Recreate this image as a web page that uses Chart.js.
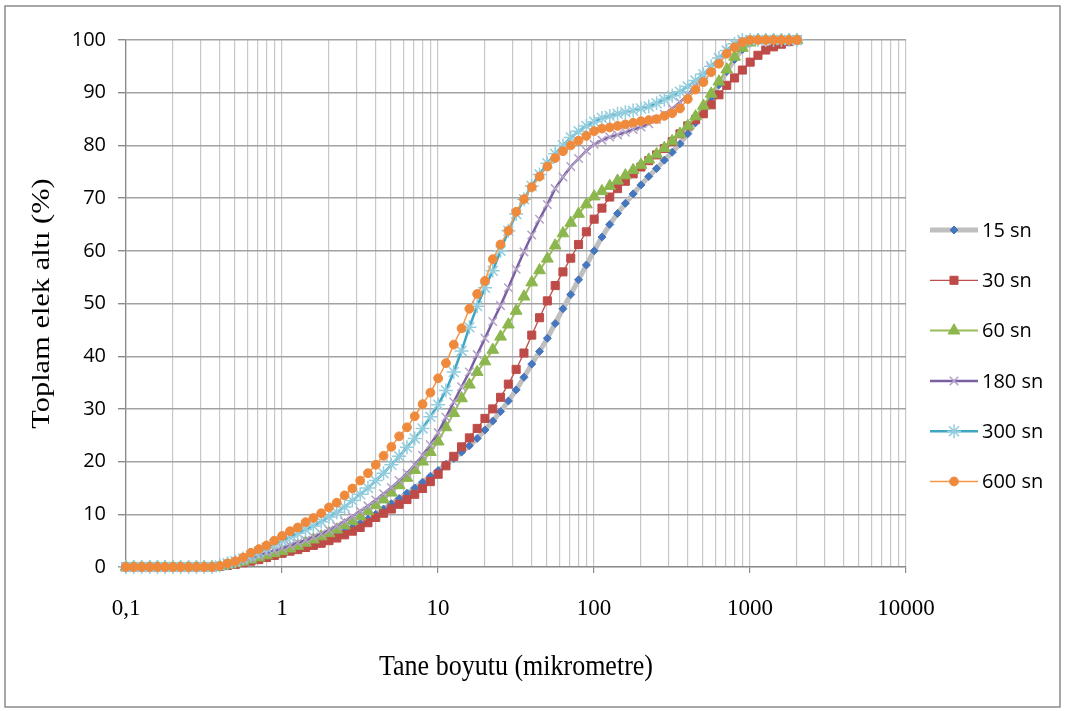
<!DOCTYPE html>
<html><head><meta charset="utf-8">
<script src="https://cdn.jsdelivr.net/npm/chart.js@4.4.1/dist/chart.umd.min.js"></script>
<style>html,body{margin:0;padding:0;background:#fff;}canvas{display:block}</style>
</head><body>
<canvas id="c" width="1065" height="711"></canvas>
<script>
// Particle size classes (micrometre)
const sizes = [
  0.1, 0.112, 0.126, 0.142, 0.159, 0.178, 0.2, 0.224, 0.252, 0.283,
  0.317, 0.356, 0.399, 0.448, 0.502, 0.564, 0.632, 0.71, 0.796, 0.893,
  1.002, 1.125, 1.262, 1.416, 1.589, 1.783, 2.0, 2.244, 2.518, 2.825,
  3.17, 3.557, 3.991, 4.477, 5.024, 5.637, 6.325, 7.096, 7.962, 8.934,
  10.024, 11.247, 12.619, 14.159, 15.887, 17.825, 20.0, 22.44, 25.179, 28.251,
  31.698, 35.566, 39.905, 44.774, 50.238, 56.368, 63.246, 70.963, 79.621, 89.337,
  100.237, 112.468, 126.191, 141.589, 158.866, 178.25, 200.0, 224.404, 251.785, 282.508,
  316.979, 355.656, 399.052, 447.744, 502.377, 563.677, 632.456, 709.627, 796.214, 893.367,
  1002.374, 1124.683, 1261.915, 1415.892, 1588.656, 1782.502, 2000.0
];
const s15 = [
  0,0,0,0,0,0,0,0,0,0,
  0,0,0.1,0.4,0.7,1.0,1.4,1.8,2.3,2.7,
  3.1,3.5,3.9,4.3,4.7,5.1,5.6,6.2,6.8,7.5,
  8.3,9.1,10.0,11.0,12.0,13.0,14.0,15.0,16.1,17.2,
  18.3,19.5,20.6,21.8,23.0,24.4,26.0,27.7,29.5,31.5,
  33.6,36.0,38.5,40.9,43.4,46.2,49.0,51.7,54.5,57.3,
  60.0,62.6,65.0,67.1,69.0,70.8,72.5,74.1,75.6,77.2,
  78.7,80.3,82.2,84.3,86.6,89.0,91.5,94.0,96.3,98.2,
  99.4,100,100,100,100,100,100
];
const s30 = [
  0,0,0,0,0,0,0,0,0,0,
  0,0,0.1,0.3,0.5,0.8,1.1,1.4,1.8,2.2,
  2.6,3.0,3.3,3.7,4.1,4.5,5.0,5.5,6.1,6.8,
  7.5,8.4,9.4,10.2,11.0,11.9,12.8,13.8,14.9,16.2,
  17.6,19.2,21.0,22.8,24.5,26.3,28.2,30.0,32.2,34.7,
  37.5,40.6,44.0,47.3,50.5,53.4,56.0,58.6,61.2,63.6,
  66.0,68.1,70.2,71.8,73.2,74.6,75.9,77.1,78.2,79.4,
  80.7,82.2,83.7,84.9,86.0,87.7,89.6,91.4,92.8,94.3,
  95.8,97.1,98.1,98.7,99.2,99.7,100
];
const s60 = [
  0,0,0,0,0,0,0,0,0,0,
  0,0,0.1,0.4,0.7,1.0,1.4,1.8,2.2,2.6,
  3.0,3.5,4.0,4.6,5.2,5.8,6.4,7.1,7.9,8.7,
  9.6,10.6,11.7,12.8,14.1,15.5,16.9,18.4,20.0,21.8,
  23.8,26.5,29.2,32.0,34.6,37.0,39.0,41.2,43.7,46.0,
  48.6,51.3,54.0,56.3,58.5,61.0,63.3,65.3,67.0,68.8,
  70.3,71.3,72.3,73.3,74.3,75.3,76.3,77.3,78.3,79.5,
  80.8,82.2,83.7,85.5,87.5,89.8,92.1,94.4,96.8,98.5,
  99.5,100,100,100,100,100,100
];
const s180 = [
  0,0,0,0,0,0,0,0,0,0,
  0,0,0.2,0.6,0.9,1.3,1.7,2.2,2.7,3.1,
  3.6,4.1,4.6,5.1,5.7,6.3,7.0,7.8,8.7,9.6,
  10.6,11.6,12.7,13.9,15.1,16.4,17.8,19.4,21.2,23.2,
  25.5,28.4,31.3,34.2,37.0,40.3,43.4,46.6,49.6,53.0,
  56.5,59.8,63.0,66.0,68.8,71.8,74.0,76.0,77.5,79.0,
  80.2,81.0,81.6,82.0,82.5,83.0,83.5,84.1,84.9,85.9,
  87.0,88.2,89.6,91.3,93.0,94.8,96.5,98.0,99.2,99.8,
  100,100,100,100,100,100,100
];
const s300 = [
  0,0,0,0,0,0,0,0,0,0,
  0,0,0.3,0.7,1.1,1.6,2.2,2.9,3.6,4.3,
  5.0,5.7,6.4,7.1,7.8,8.6,9.5,10.4,11.4,12.6,
  13.8,15.0,16.4,17.8,19.4,21.0,22.7,24.4,26.3,28.5,
  30.8,33.5,37.0,41.0,45.5,49.5,53.0,56.2,60.0,63.8,
  67.0,69.8,72.3,74.5,76.6,78.4,80.0,81.5,82.7,83.7,
  84.5,85.2,85.6,86.0,86.3,86.6,87.0,87.4,88.0,88.7,
  89.4,90.2,91.2,92.3,93.5,95.0,96.6,98.0,99.3,100,
  100,100,100,100,100,100,100
];
const s600 = [
  0,0,0,0,0,0,0,0,0,0,
  0,0,0.2,0.7,1.1,1.8,2.7,3.4,4.1,5.0,
  5.9,6.8,7.5,8.5,9.3,10.2,11.3,12.2,13.6,14.9,
  16.4,17.8,19.4,21.1,22.8,24.8,26.5,28.6,30.9,33.1,
  35.8,38.7,42.2,45.3,49.0,51.8,54.3,58.4,61.2,63.8,
  67.4,69.8,72.1,74.1,76.0,77.6,78.9,80.0,80.9,81.8,
  82.7,83.2,83.4,83.7,84.0,84.3,84.6,84.8,85.0,85.6,
  86.1,87.0,88.8,90.6,92.0,93.9,95.5,97.4,98.6,99.6,
  100,100,100,100,100,100,100
];
const seriesNames = ['15 sn', '30 sn', '60 sn', '180 sn', '300 sn', '600 sn'];
const seriesValues = [s15, s30, s60, s180, s300, s600];
const xDecades = [0.1, 1, 10, 100, 1000, 10000];
const xTickLabels = ['0,1', '1', '10', '100', '1000', '10000'];
const yTickValues = [0, 10, 20, 30, 40, 50, 60, 70, 80, 90, 100];
const xTitle = 'Tane boyutu (mikrometre)';
const yTitle = 'Toplam elek altı (%)';

const styles = [
  {line:'#bfbfbf', lw:5,   ps:'rectRot',  r:4.0, fill:'#4677be', stroke:'#4677be', pbw:1},
  {line:'#c0504d', lw:1.3, ps:'rect',     r:5.7, fill:'#be4b48', stroke:'#be4b48', pbw:1},
  {line:'#9bbb59', lw:2,   ps:'triangle', r:6.8, fill:'#8cb64e', stroke:'#8cb64e', pbw:1},
  {line:'#7b5fa3', lw:2.5, ps:'crossRot', r:6.0, fill:'#b3a2c7', stroke:'#b3a2c7', pbw:1.5},
  {line:'#3ea5c2', lw:2.5, ps:'star',     r:7.0, fill:'#93cddd', stroke:'#93cddd', pbw:1.5},
  {line:'#f79646', lw:1.5, ps:'circle',   r:4.4, fill:'#ef8a3d', stroke:'#ef8a3d', pbw:1}
];

// grid positions: 1..9 in each decade
const gridVals = [];
for (let d = 0; d < xDecades.length - 1; d++) {
  for (let k = 1; k <= 9; k++) gridVals.push(+(xDecades[d] * k).toPrecision(6));
}
gridVals.push(xDecades[xDecades.length - 1]);
function decadeLabel(v) {
  for (let i = 0; i < xDecades.length; i++) {
    if (Math.abs(v - xDecades[i]) / xDecades[i] < 1e-6) return xTickLabels[i];
  }
  return null;
}

const datasets = seriesNames.map((name, i) => {
  const st = styles[i];
  return {
    label: name,
    data: sizes.map((x, j) => ({x: x, y: seriesValues[i][j]})),
    borderColor: st.line,
    borderWidth: st.lw,
    backgroundColor: st.fill,
    pointStyle: st.ps,
    pointRadius: st.r,
    pointHoverRadius: st.r,
    pointBackgroundColor: st.fill,
    pointBorderColor: st.stroke,
    pointBorderWidth: st.pbw,
    tension: 0,
    fill: false,
    clip: false,
    order: seriesNames.length - 1 - i
  };
});

function drawMarker(ctx, st, x, y) {
  ctx.fillStyle = st.fill;
  ctx.strokeStyle = st.stroke;
  ctx.lineWidth = st.pbw;
  if (window.Chart && Chart.helpers && Chart.helpers.drawPoint) {
    Chart.helpers.drawPoint(ctx, {pointStyle: st.ps, radius: st.r, rotation: 0, borderWidth: st.pbw}, x, y);
  } else {
    ctx.beginPath(); ctx.arc(x, y, st.r, 0, Math.PI * 2); ctx.fill(); ctx.stroke();
  }
}

const bgPlugin = {
  id: 'bgFrame',
  beforeDraw(chart) {
    const ctx = chart.ctx;
    ctx.save();
    ctx.fillStyle = '#ffffff';
    ctx.fillRect(0, 0, chart.width, chart.height);
    ctx.strokeStyle = '#8a8a8a';
    ctx.lineWidth = 1.5;
    ctx.strokeRect(5, 6, 1055, 701);
    ctx.restore();
  }
};

// axis titles (slightly stretched, as in the source picture)
const titlePlugin = {
  id: 'axisTitles',
  afterDraw(chart) {
    const ctx = chart.ctx;
    const a = chart.chartArea;
    ctx.save();
    ctx.fillStyle = '#000';
    ctx.font = '26px "Liberation Serif"';
    ctx.textAlign = 'center';
    ctx.textBaseline = 'middle';
    // x title
    ctx.save();
    ctx.translate((a.left + a.right) / 2, 667);
    ctx.scale(1.0, 1.12);
    ctx.fillText(xTitle, 0, 0);
    ctx.restore();
    // y title
    ctx.save();
    ctx.translate(42, (a.top + a.bottom) / 2);
    ctx.rotate(-Math.PI / 2);
    ctx.scale(1.17, 1.0);
    ctx.fillText(yTitle, 0, 0);
    ctx.restore();
    ctx.restore();
  }
};

const legendPlugin = {
  id: 'sideLegend',
  afterDraw(chart) {
    const ctx = chart.ctx;
    ctx.save();
    seriesNames.forEach((name, i) => {
      const st = styles[i];
      const y = 230 + i * 50.3;
      ctx.strokeStyle = st.line;
      ctx.lineWidth = st.lw;
      ctx.beginPath(); ctx.moveTo(930, y); ctx.lineTo(978, y); ctx.stroke();
      drawMarker(ctx, st, 954, y);
      ctx.fillStyle = '#000';
      ctx.font = '20px "Open Sans"';
      ctx.textAlign = 'left';
      ctx.textBaseline = 'middle';
      ctx.fillText(name, 982, y + 1);
    });
    ctx.restore();
  }
};

new Chart(document.getElementById('c'), {
  type: 'line',
  data: { datasets: datasets },
  plugins: [bgPlugin, titlePlugin, legendPlugin],
  options: {
    responsive: false,
    animation: false,
    devicePixelRatio: 1,
    events: [],
    layout: { padding: { left: 0, right: 159, top: 40, bottom: 0 } },
    plugins: { legend: { display: false }, tooltip: { enabled: false } },
    scales: {
      x: {
        type: 'logarithmic',
        min: xDecades[0],
        max: xDecades[xDecades.length - 1],
        afterBuildTicks(scale) { scale.ticks = gridVals.map(v => ({value: v})); },
        afterFit(scale) { scale.height = 144; },
        grid: {
          color: '#c8c8c8',
          lineWidth: 1.2,
          drawTicks: true,
          tickLength: 6,
          tickColor: (c) => (c.tick && decadeLabel(c.tick.value) !== null) ? '#8a8a8a' : 'rgba(0,0,0,0)'
        },
        border: { color: '#8a8a8a', width: 1.3 },
        ticks: {
          autoSkip: false, maxRotation: 0, minRotation: 0, padding: 22,
          color: '#000',
          font: { family: 'Liberation Serif', size: 23 },
          callback: (v) => { const l = decadeLabel(v); return l === null ? '' : l; }
        },
        title: { display: false }
      },
      y: {
        type: 'linear',
        min: yTickValues[0],
        max: yTickValues[yTickValues.length - 1],
        afterBuildTicks(scale) { scale.ticks = yTickValues.map(v => ({value: v})); },
        afterFit(scale) { scale.width = 126; },
        grid: { color: '#a2a2a2', lineWidth: 1.4, drawTicks: true, tickLength: 8, tickColor: '#8a8a8a' },
        border: { color: '#8a8a8a', width: 1.3 },
        ticks: {
          padding: 12, color: '#000',
          font: { family: 'Open Sans', size: 20 }
        },
        title: { display: false }
      }
    }
  }
});
</script>
</body></html>
